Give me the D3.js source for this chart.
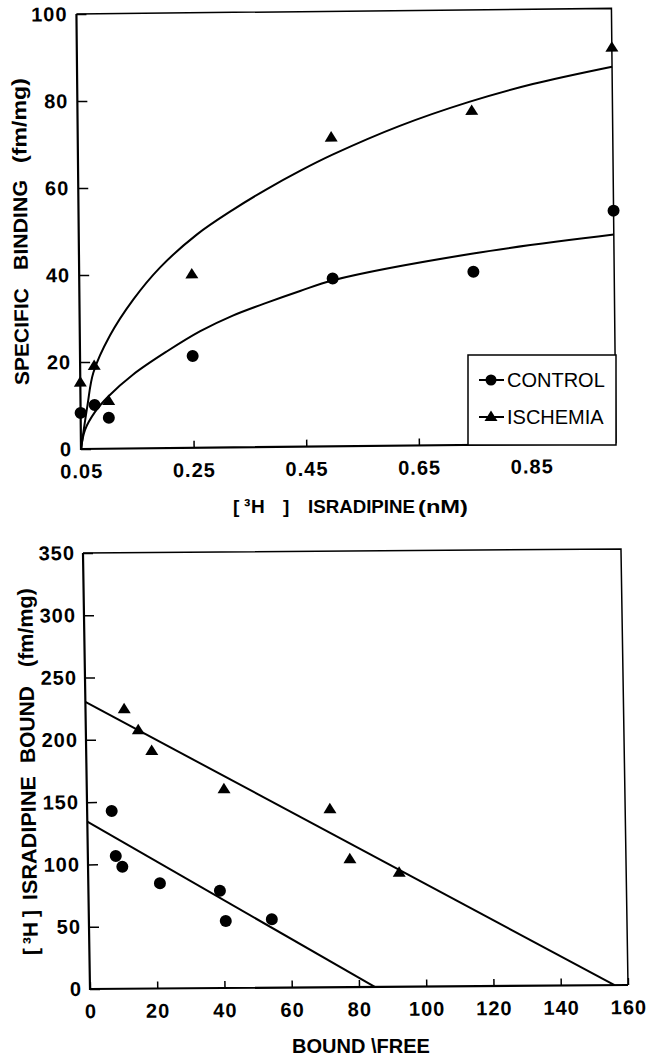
<!DOCTYPE html>
<html>
<head>
<meta charset="utf-8">
<script src="https://cdn.jsdelivr.net/npm/d3@7"></script>
<style>
    body { margin: 0; background: #fff; }
    text { font-family: "Liberation Sans", Arial, sans-serif; fill: #000; }
    .tick text { font-size: 20px; font-weight: bold; letter-spacing: 1px; }
    .frame { fill: none; stroke: #000; }
    .fit { fill: none; stroke: #000; stroke-width: 2; }
    .axisTitle { font-weight: bold; }
</style>
</head>
<body>
<script>
//wrap everything in a self-executing anonymous function
(function(){

    //top panel: specific binding vs concentration
    var concentration = [0.05, 0.075, 0.1, 0.25, 0.5, 0.75, 1.0];
    var controlBinding = [8.3, 10.1, 7.1, 21.1, 38.6, 39.8, 53.5];
    var ischemiaBinding = [15.5, 19.3, 11.2, 40.1, 71.2, 77.0, 91.2];

    //fitted saturation curves
    var controlCurveX = [0.05, 0.0575, 0.0756, 0.0994, 0.144, 0.204, 0.264, 0.322, 0.383, 0.442, 0.501, 0.75, 1.0];
    var controlCurveY = [0, 4.4, 8.5, 12.0, 17.0, 22.2, 26.8, 30.3, 33.2, 35.8, 38.2, 44.0, 48.0];
    var ischemiaCurveX = [0.05, 0.0623, 0.0733, 0.1035, 0.1455, 0.1935, 0.2595, 0.324, 0.385, 0.444, 0.503, 0.622, 0.747, 0.859, 1.0];
    var ischemiaCurveY = [0, 10.0, 17.5, 26.0, 34.2, 41.5, 49.0, 54.6, 59.3, 63.4, 67.1, 73.5, 78.9, 82.8, 86.6];

    var topXTicks = [0.05, 0.25, 0.45, 0.65, 0.85];
    var topYTicks = [0, 20, 40, 60, 80, 100];

    //bottom panel: scatchard plot
    var controlBoundFree = [7.3, 8.3, 10.2, 21.3, 39.1, 40.7, 54.4];
    var controlBound = [142.7, 106.6, 98.0, 84.4, 78.1, 53.8, 54.9];
    var ischemiaBoundFree = [11.5, 15.6, 19.5, 40.8, 72.2, 77.9, 92.5];
    var ischemiaBound = [225.1, 208.2, 191.5, 160.3, 143.6, 103.4, 92.3];

    //regression lines (end points)
    var controlFitX = [0, 84.7], controlFitY = [134.3, 0];
    var ischemiaFitX = [0, 156], ischemiaFitY = [230.5, 0];

    var bottomXTicks = [0, 20, 40, 60, 80, 100, 120, 140, 160];
    var bottomYTicks = [0, 50, 100, 150, 200, 250, 300, 350];

    var legendLabels = ["CONTROL", "ISCHEMIA"];

    var svg = d3.select("body")
        .append("svg")
        .attr("width", 647)
        .attr("height", 1059);

    //triangle marker path centred on its box
    var triPath = "M0,-5.5L6.5,5L-6.5,5Z";

    function zip(xs, ys){
        return xs.map(function(x, i){ return [x, ys[i]]; });
    };

    function drawMarkers(g, pts, x, y, kind){
        if (kind == "circle") {
            g.selectAll(null)
                .data(pts)
                .enter()
                .append("circle")
                .attr("cx", function(d){ return x(d[0]); })
                .attr("cy", function(d){ return y(d[1]); })
                .attr("r", 6)
                .attr("fill", "#000");
        } else {
            g.selectAll(null)
                .data(pts)
                .enter()
                .append("path")
                .attr("d", triPath)
                .attr("transform", function(d){ return "translate(" + x(d[0]) + "," + y(d[1]) + ")"; })
                .attr("fill", "#000");
        }
    };

    //rotated title made of separately placed words
    function rotatedTitle(x0, y0, angle, size, words){
        var t = svg.append("text")
            .attr("class", "axisTitle")
            .attr("transform", "translate(" + x0 + "," + y0 + ") rotate(" + angle + ")")
            .style("font-size", size + "px");
        words.forEach(function(w){
            var s = t.append("tspan")
                .attr("x", w[1])
                .attr("y", 0)
                .text(w[0]);
            if (w[2]) {
                s.attr("textLength", w[2]).attr("lengthAdjust", "spacingAndGlyphs");
            }
        });
    };

    function setTop(){
        //scanned page is slightly rotated, origin at bottom-left corner
        var g = svg.append("g")
            .attr("transform", "matrix(1,-0.0105,0.0105,1,81,449)");

        var x = d3.scaleLinear().domain([0.05, 1.0]).range([0, 535]);
        var y = d3.scaleLinear().domain([0, 100]).range([0, -435]);

        var yAxis = d3.axisLeft(y)
            .tickValues(topYTicks)
            .tickFormat(d3.format("d"))
            .tickSizeInner(-10)
            .tickSizeOuter(0)
            .tickPadding(9);
        var gy = g.append("g").call(yAxis);
        gy.select(".domain").remove();
        gy.selectAll("line").attr("stroke-width", 1.5);

        var xAxis = d3.axisBottom(x)
            .tickValues(topXTicks)
            .tickFormat(d3.format(".2f"))
            .tickSizeInner(-7)
            .tickSizeOuter(0)
            .tickPadding(15);
        var gx = g.append("g").call(xAxis);
        gx.select(".domain").remove();
        gx.selectAll("line").attr("stroke-width", 1.5);

        //plot frame
        g.append("path")
            .attr("class", "frame")
            .attr("stroke-width", 1.5)
            .attr("d", "M0,-435H535V0");
        g.append("path")
            .attr("class", "frame")
            .attr("stroke-width", 2.2)
            .attr("d", "M0,-435V0H535");

        var line = d3.line()
            .x(function(d){ return x(d[0]); })
            .y(function(d){ return y(d[1]); })
            .curve(d3.curveCatmullRom.alpha(0.5));

        g.append("path").attr("class", "fit").attr("d", line(zip(controlCurveX, controlCurveY)));
        g.append("path").attr("class", "fit").attr("d", line(zip(ischemiaCurveX, ischemiaCurveY)));

        drawMarkers(g, zip(concentration, controlBinding), x, y, "circle");
        drawMarkers(g, zip(concentration, ischemiaBinding), x, y, "triangle");

        //legend box
        var legend = svg.append("g");
        legend.append("rect")
            .attr("x", 468)
            .attr("y", 355)
            .attr("width", 148)
            .attr("height", 90)
            .attr("fill", "#fff")
            .attr("stroke", "#000")
            .attr("stroke-width", 1.5);
        legendLabels.forEach(function(label, i){
            var ly = 380 + i * 37;
            legend.append("line")
                .attr("x1", 479).attr("x2", 504)
                .attr("y1", ly).attr("y2", ly)
                .attr("stroke", "#000")
                .attr("stroke-width", 2);
            if (i == 0) {
                legend.append("circle").attr("cx", 491).attr("cy", ly).attr("r", 5.5).attr("fill", "#000");
            } else {
                legend.append("path").attr("d", triPath).attr("transform", "translate(491," + (ly - 1) + ")").attr("fill", "#000");
            }
            legend.append("text")
                .attr("x", 507)
                .attr("y", ly + 7)
                .style("font-size", "20px")
                .text(label);
        });

        //axis titles
        rotatedTitle(29, 385, -90.6, 20, [["SPECIFIC", 0, 97], ["BINDING", 115, 90], ["(fm/mg)", 222, 85]]);

        var xt = svg.append("text")
            .attr("class", "axisTitle")
            .attr("y", 513)
            .style("font-size", "19px");
        [["[", 233, 0], ["³", 244, 0], ["H", 251, 0], ["]", 283, 0], ["ISRADIPINE", 308, 107], ["(nM)", 418, 50]].forEach(function(w){
            var s = xt.append("tspan")
                .attr("x", w[1])
                .text(w[0]);
            if (w[2]) {
                s.attr("textLength", w[2]).attr("lengthAdjust", "spacingAndGlyphs");
            }
        });
    };

    function setBottom(){
        var g = svg.append("g")
            .attr("transform", "matrix(1,-0.0074,0.0161,1,90,989)");

        var x = d3.scaleLinear().domain([0, 160]).range([0, 538]);
        var y = d3.scaleLinear().domain([0, 350]).range([0, -436]);

        var yAxis = d3.axisLeft(y)
            .tickValues(bottomYTicks)
            .tickSizeInner(-10)
            .tickSizeOuter(0)
            .tickPadding(8);
        var gy = g.append("g").call(yAxis);
        gy.select(".domain").remove();
        gy.selectAll("line").attr("stroke-width", 1.5);

        var xAxis = d3.axisBottom(x)
            .tickValues(bottomXTicks)
            .tickSizeInner(-7)
            .tickSizeOuter(0)
            .tickPadding(15);
        var gx = g.append("g").call(xAxis);
        gx.select(".domain").remove();
        gx.selectAll("line").attr("stroke-width", 1.5);

        g.append("path")
            .attr("class", "frame")
            .attr("stroke-width", 1.5)
            .attr("d", "M0,-436H538V0");
        g.append("path")
            .attr("class", "frame")
            .attr("stroke-width", 2.2)
            .attr("d", "M0,-436V0H538");

        var line = d3.line()
            .x(function(d){ return x(d[0]); })
            .y(function(d){ return y(d[1]); });

        g.append("path").attr("class", "fit").attr("stroke-width", 1.8).attr("d", line(zip(controlFitX, controlFitY)));
        g.append("path").attr("class", "fit").attr("stroke-width", 1.8).attr("d", line(zip(ischemiaFitX, ischemiaFitY)));

        drawMarkers(g, zip(controlBoundFree, controlBound), x, y, "circle");
        drawMarkers(g, zip(ischemiaBoundFree, ischemiaBound), x, y, "triangle");

        //axis titles
        rotatedTitle(38, 955, -90.9, 21, [["[", 0, 0], ["³", 11, 0], ["H", 18, 0], ["]", 38, 0], ["ISRADIPINE", 55, 124], ["BOUND", 192, 0], ["(fm/mg)", 288, 79]]);

        svg.append("text")
            .attr("class", "axisTitle")
            .attr("x", 361)
            .attr("y", 1053)
            .attr("text-anchor", "middle")
            .style("font-size", "20px")
            .text("BOUND \\FREE");
    };

    setTop();
    setBottom();
})();
</script>
</body>
</html>
